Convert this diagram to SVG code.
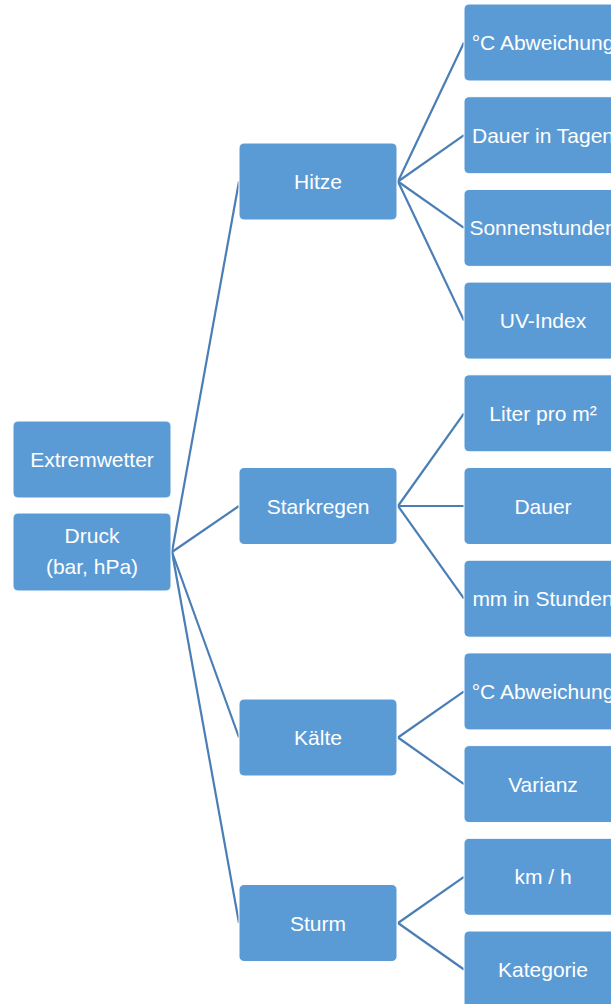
<svg xmlns="http://www.w3.org/2000/svg" width="611" height="1004" viewBox="0 0 611 1004">
<style>
.n{fill:#5B9BD5;stroke:#FFFFFF;stroke-width:1}
.t{font-family:"Liberation Sans",Arial,sans-serif;font-size:21px;fill:#FFFFFF;text-anchor:middle}
.c line{stroke:#4A7EB5;stroke-width:2.2;fill:none}
</style>
<rect width="611" height="1004" fill="#FFFFFF"/>
<g id="connectors" class="c">
<line x1="172" y1="552" x2="239" y2="181.5"/>
<line x1="172" y1="552" x2="239" y2="506"/>
<line x1="172" y1="552" x2="239" y2="737.5"/>
<line x1="172" y1="552" x2="239" y2="923"/>
<line x1="398" y1="181.5" x2="464" y2="42.5"/>
<line x1="398" y1="181.5" x2="464" y2="135.2"/>
<line x1="398" y1="181.5" x2="464" y2="227.9"/>
<line x1="398" y1="181.5" x2="464" y2="320.6"/>
<line x1="398" y1="506" x2="464" y2="413.3"/>
<line x1="398" y1="506" x2="464" y2="506"/>
<line x1="398" y1="506" x2="464" y2="598.7"/>
<line x1="398" y1="737.5" x2="464" y2="691.4"/>
<line x1="398" y1="737.5" x2="464" y2="784.1"/>
<line x1="398" y1="923" x2="464" y2="876.8"/>
<line x1="398" y1="923" x2="464" y2="969.5"/>
</g>
<g id="extremwetter"><rect class="n" x="13" y="421" width="158" height="77" rx="5"/><text class="t" x="92" y="467">Extremwetter</text></g>
<g id="druck"><rect class="n" x="13" y="513" width="158" height="78" rx="5"/><text class="t" x="92" y="543">Druck</text><text class="t" x="92" y="574">(bar, hPa)</text></g>
<g id="hitze"><rect class="n" x="239" y="143" width="158" height="77" rx="5"/><text class="t" x="318" y="189">Hitze</text></g>
<g id="starkregen"><rect class="n" x="239" y="467.5" width="158" height="77" rx="5"/><text class="t" x="318" y="513.5">Starkregen</text></g>
<g id="kaelte"><rect class="n" x="239" y="699" width="158" height="77" rx="5"/><text class="t" x="318" y="745">Kälte</text></g>
<g id="sturm"><rect class="n" x="239" y="884.5" width="158" height="77" rx="5"/><text class="t" x="318" y="930.5">Sturm</text></g>
<g id="h1"><rect class="n" x="464" y="4" width="158" height="77" rx="5"/><text class="t" x="543" y="50">°C Abweichung</text></g>
<g id="h2"><rect class="n" x="464" y="96.7" width="158" height="77" rx="5"/><text class="t" x="543" y="142.7">Dauer in Tagen</text></g>
<g id="h3"><rect class="n" x="464" y="189.4" width="158" height="77" rx="5"/><text class="t" x="543" y="235.4">Sonnenstunden</text></g>
<g id="h4"><rect class="n" x="464" y="282.1" width="158" height="77" rx="5"/><text class="t" x="543" y="328.1">UV-Index</text></g>
<g id="s1"><rect class="n" x="464" y="374.8" width="158" height="77" rx="5"/><text class="t" x="543" y="420.8">Liter pro m²</text></g>
<g id="s2"><rect class="n" x="464" y="467.5" width="158" height="77" rx="5"/><text class="t" x="543" y="513.5">Dauer</text></g>
<g id="s3"><rect class="n" x="464" y="560.2" width="158" height="77" rx="5"/><text class="t" x="543" y="606.2">mm in Stunden</text></g>
<g id="k1"><rect class="n" x="464" y="652.9" width="158" height="77" rx="5"/><text class="t" x="543" y="698.9">°C Abweichung</text></g>
<g id="k2"><rect class="n" x="464" y="745.6" width="158" height="77" rx="5"/><text class="t" x="543" y="791.6">Varianz</text></g>
<g id="st1"><rect class="n" x="464" y="838.3" width="158" height="77" rx="5"/><text class="t" x="543" y="884.3">km / h</text></g>
<g id="st2"><rect class="n" x="464" y="931" width="158" height="77" rx="5"/><text class="t" x="543" y="977">Kategorie</text></g>
</svg>
